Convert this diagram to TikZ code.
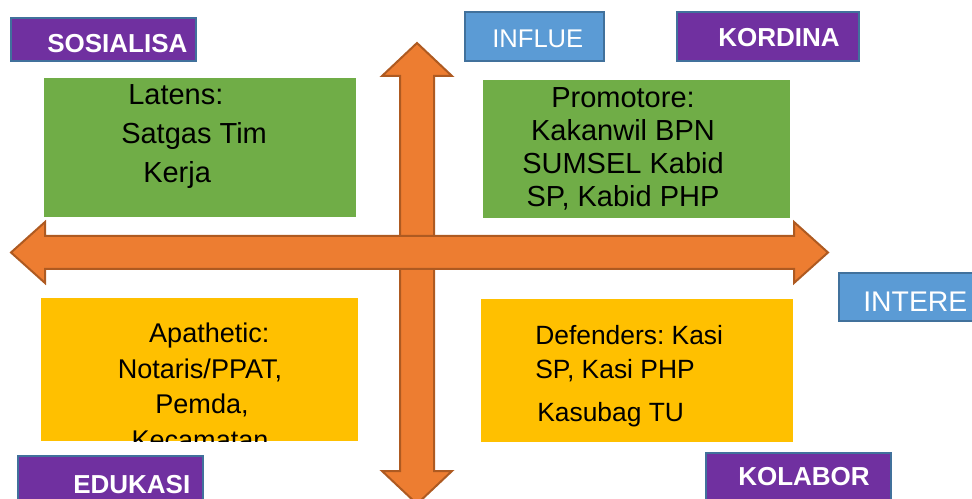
\documentclass[tikz,border=0pt]{standalone}
\usepackage{fontspec}
\setmainfont{Liberation Sans}
\usepackage{tikz}
\usetikzlibrary{positioning}
\frenchspacing

\definecolor{axisfill}{HTML}{ED7D31}
\definecolor{axisline}{HTML}{AE5A21}
\definecolor{quadgreen}{HTML}{70AD47}
\definecolor{quadgold}{HTML}{FFC000}
\definecolor{tagpurple}{HTML}{7030A0}
\definecolor{tagblue}{HTML}{5B9BD5}
\definecolor{tagline}{HTML}{41719C}

\begin{document}
\begin{tikzpicture}[x=0.75pt,y=-0.75pt,
  axis/.style={fill=axisfill,draw=axisline,line width=1.5pt,line join=miter},
  quad/.style={rectangle,inner sep=0pt,anchor=north west},
  tag/.style={quad,draw=tagline,line width=1.5pt},
  bodytext/.style 2 args={inner sep=0pt,font=\fontsize{#1}{#2}\selectfont},
  tagtext/.style={inner sep=0pt,anchor=base west,text=white,font=\fontsize{19.5pt}{22pt}\selectfont\bfseries}]
\useasboundingbox (0,0) rectangle (972,499);
\clip (0,0) rectangle (972,499);

\draw[axis] (417,43) -- (452,76) -- (434,76) -- (434,471) -- (452,471) -- (417,504)
  -- (382,471) -- (400,471) -- (400,76) -- (382,76) -- cycle;
\draw[axis] (11,252.5) -- (45,222) -- (45,236) -- (794,236) -- (794,222) -- (828,252.5)
  -- (794,283) -- (794,269) -- (45,269) -- (45,283) -- cycle;

\node[quad,fill=quadgreen,minimum width=234pt,minimum height=104.25pt] (latens) at (44,78) {};
\node[bodytext={21.75pt}{29.25pt},anchor=north west,align=left] (latens text) at (121,84)
  {\hspace*{5.25pt}Latens:\\Satgas Tim\\\hspace*{16.5pt}Kerja};

\node[quad,fill=quadgreen,minimum width=230.25pt,minimum height=103.5pt] (promotore) at (483,80) {};
\node[bodytext={21.75pt}{24.75pt},anchor=north,align=center] (promotore text) at (623,87)
  {Promotore:\\Kakanwil BPN\\SUMSEL Kabid\\SP, Kabid PHP};

\node[quad,fill=quadgold,minimum width=237.75pt,minimum height=107.25pt] (apathetic) at (41,298) {};
\begin{scope}
\clip (apathetic.north west) rectangle (apathetic.south east);
\node[bodytext={20.3pt}{26.6pt},anchor=north,align=center] (apathetic text) at (200,323)
  {\hspace*{14pt}Apathetic:\\Notaris/PPAT,\\\hspace*{3pt}Pemda,\\Kecamatan};
\end{scope}

\node[quad,fill=quadgold,minimum width=234pt,minimum height=107.25pt] (defenders) at (481,299) {};
\node[bodytext={19.8pt}{25.5pt},anchor=north west,align=left] (defenders text) at (535,325)
  {Defenders: Kasi\\SP, Kasi PHP\\[7pt]\hspace*{1.5pt}Kasubag TU};

\node[tag,fill=tagpurple,minimum width=138.75pt,minimum height=32.25pt] (sosialisa) at (10,17) {};
\node[tagtext] (sosialisa text) at (47,53) {SOSIALISA};

\node[tag,fill=tagblue,minimum width=104.25pt,minimum height=36.75pt] (influe) at (464,11) {};
\node[tagtext,font=\fontsize{19.2pt}{22pt}\selectfont] (influe text) at (492,48) {INFLUE};

\node[tag,fill=tagpurple,minimum width=136.5pt,minimum height=36.75pt] (kordina) at (676,11) {};
\node[tagtext] (kordina text) at (718,47) {KORDINA};

\node[tag,fill=tagblue,minimum width=112.5pt,minimum height=36pt] (intere) at (838,272) {};
\node[tagtext,font=\fontsize{21.3pt}{24pt}\selectfont] (intere text) at (863,311) {INTERE};

\node[tag,fill=tagpurple,minimum width=138.75pt,minimum height=40pt] (kolabor) at (705,452) {};
\node[tagtext] (kolabor text) at (738,485) {KOLABOR};

\node[tag,fill=tagpurple,minimum width=138.75pt,minimum height=40pt] (edukasi) at (17,455) {};
\node[tagtext] (edukasi text) at (73,493) {EDUKASI};

\end{tikzpicture}
\end{document}
